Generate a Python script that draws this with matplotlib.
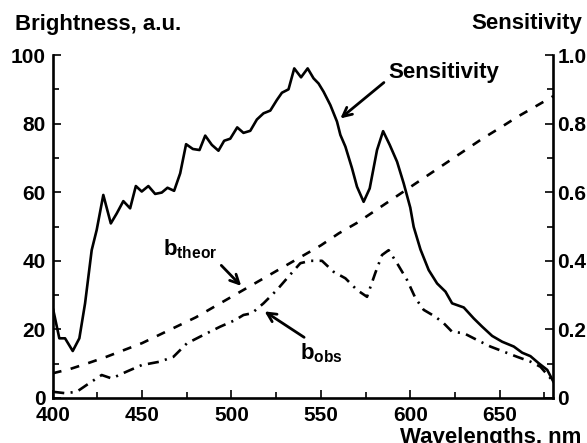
import matplotlib
matplotlib.use("Agg")
import matplotlib.pyplot as plt

plt.rcParams['font.family'] = ['Liberation Sans', 'DejaVu Sans']
plt.rcParams['font.weight'] = 'bold'
plt.rcParams['mathtext.fontset'] = 'custom'
plt.rcParams['mathtext.bf'] = 'Liberation Sans:bold'
plt.rcParams['mathtext.rm'] = 'Liberation Sans:bold'

# sensitivity (right axis, 0..1)
sens_wl = [400.3, 403.7, 406.9, 411.2, 414.9, 418.1, 421.8, 424.6, 428.3, 432.5,
           435.8, 439.5, 443.3, 446.5, 449.8, 453.5, 457.3, 461.0, 464.2, 467.9,
           471.3, 474.6, 478.4, 482.1, 485.3, 489.0, 492.7, 495.9, 499.3, 503.2,
           506.7, 510.5, 514.2, 517.9, 521.7, 525.4, 528.2, 531.9, 535.1, 538.9,
           542.6, 545.9, 548.7, 551.5, 555.3, 559.0, 560.9, 563.7, 567.4, 570.2,
           573.9, 577.3, 581.4, 584.8, 588.5, 592.6, 596.3, 600.0, 601.9, 605.7,
           610.3, 615.0, 619.7, 623.4, 629.9, 635.5, 640.2, 645.8, 651.4, 657.9,
           662.6, 667.2, 671.9, 676.6, 680.0]
sens = [0.257, 0.174, 0.174, 0.137, 0.174, 0.276, 0.431, 0.490, 0.592, 0.509,
        0.538, 0.574, 0.553, 0.618, 0.602, 0.618, 0.595, 0.599, 0.613, 0.604,
        0.655, 0.740, 0.726, 0.723, 0.765, 0.738, 0.721, 0.750, 0.756, 0.789,
        0.773, 0.779, 0.812, 0.830, 0.838, 0.869, 0.890, 0.900, 0.961, 0.935,
        0.961, 0.932, 0.917, 0.893, 0.854, 0.806, 0.767, 0.733, 0.670, 0.616,
        0.572, 0.611, 0.723, 0.778, 0.738, 0.689, 0.626, 0.555, 0.499, 0.433,
        0.373, 0.334, 0.310, 0.276, 0.264, 0.232, 0.208, 0.181, 0.164, 0.150,
        0.132, 0.122, 0.101, 0.082, 0.048]

# theoretical brightness
theor_wl = [400, 410, 420, 430, 440, 450, 460, 470, 480, 490, 500, 510, 520, 530,
            540, 550, 560, 570, 580, 590, 600, 610, 620, 630, 640, 650, 660, 670, 680]
b_theor = [7.2, 8.5, 10.2, 12.0, 14.0, 16.0, 18.5, 21.0, 23.5, 26.5, 29.5, 32.5,
           35.5, 38.5, 41.5, 44.5, 48.0, 51.0, 54.5, 58.0, 61.5, 65.0, 68.5, 72.0,
           75.5, 78.7, 82.0, 85.0, 88.0]

# observed brightness
obs_wl = [400.3, 407.0, 413.4, 419.0, 427.4, 433.0, 441.4, 449.8, 460.0, 467.5,
          475.0, 482.5, 493.7, 502.0, 506.7, 511.4, 517.9, 525.4, 531.9, 538.5,
          544.1, 550.6, 557.1, 563.7, 570.2, 575.8, 580.4, 584.2, 587.9, 592.6,
          598.2, 602.9, 607.5, 614.0, 618.7, 623.4, 629.9, 637.4, 644.8, 652.3,
          659.8, 667.2, 672.8, 680.0]
b_obs = [1.8, 1.4, 1.8, 3.8, 6.7, 5.7, 7.7, 9.6, 10.6, 12.0,
         15.9, 17.9, 20.8, 22.7, 24.2, 24.7, 27.6, 31.5, 35.4, 39.3,
         40.0, 40.0, 36.8, 34.9, 31.5, 29.5, 36.4, 41.7, 43.1, 39.3,
         34.4, 29.1, 25.7, 23.7, 21.8, 19.3, 18.9, 16.9, 15.0, 13.5,
         12.0, 10.6, 9.1, 4.8]

fs = 15
fs_text = 16
fig = plt.figure(figsize=(5.87, 4.43), dpi=100)
ax = fig.add_axes([0.0898, 0.1016, 0.8528, 0.7742])
ax2 = ax.twinx()

lw = 1.9
ax.plot(theor_wl, b_theor, color='black', lw=lw, dashes=(3.4, 3.6))
ax.plot(obs_wl, b_obs, color='black', lw=lw, dashes=(4.2, 2.4, 0.8, 2.4))
ax2.plot(sens_wl, sens, color='black', lw=lw)

ax.set_xlim(400, 680)
ax.set_ylim(0, 100)
ax2.set_ylim(0, 1.0)

ax.set_xticks([400, 450, 500, 550, 600, 650])
ax.set_xticks(range(425, 680, 50), minor=True)
ax.set_yticks(range(0, 101, 20))
ax.set_yticks(range(10, 100, 20), minor=True)
ax2.set_yticks([0, 0.2, 0.4, 0.6, 0.8, 1.0])
ax2.set_yticklabels(['0', '0.2', '0.4', '0.6', '0.8', '1.0'])
ax2.set_yticks([0.1, 0.3, 0.5, 0.7, 0.9], minor=True)

for a in (ax, ax2):
    a.spines['top'].set_visible(False)
    for s in a.spines.values():
        s.set_linewidth(1.9)
ax.spines['right'].set_visible(False)
ax2.spines['left'].set_visible(False)
ax2.spines['bottom'].set_visible(False)

ax.tick_params(axis='both', which='major', direction='in', length=6, width=1.2,
               labelsize=fs, pad=5)
ax.tick_params(axis='both', which='minor', direction='in', length=4, width=1.2)
ax.tick_params(axis='x', pad=6)
ax2.tick_params(axis='y', which='major', direction='in', length=6, width=1.2,
                labelsize=fs, pad=3)
ax2.tick_params(axis='y', which='minor', direction='in', length=4, width=1.2)
for lab in ax.get_xticklabels() + ax.get_yticklabels() + ax2.get_yticklabels():
    lab.set_fontweight('bold')

fig.text(0.026, 0.944, 'Brightness, a.u.', fontsize=fs_text, fontweight='bold',
         ha='left', va='center')
fig.text(0.992, 0.946, 'Sensitivity', fontsize=fs_text, fontweight='bold',
         ha='right', va='center')
fig.text(0.99, 0.036, 'Wavelengths, nm', fontsize=fs_text, fontweight='bold',
         ha='right', va='top')

arrow = dict(arrowstyle='->', lw=2.0, color='black', mutation_scale=16)
ax.annotate('Sensitivity', xy=(559.7, 81), xytext=(588.0, 95), fontsize=fs_text,
            fontweight='bold', ha='left', va='center',
            arrowprops=dict(arrow, relpos=(0.0, 0.2)),
            annotation_clip=False)
ax.annotate(r'$\mathbf{b_{theor}}$', xy=(506.5, 32.1), xytext=(461.5, 43.5),
            fontsize=fs_text, ha='left', va='center',
            arrowprops=dict(arrow, relpos=(0.95, 0.1)))
ax.annotate(r'$\mathbf{b_{obs}}$', xy=(517.2, 25.7), xytext=(538.3, 13.0),
            fontsize=fs_text, ha='left', va='center',
            arrowprops=dict(arrow, relpos=(0.25, 1.0)))

fig.savefig('out.png', dpi=100)
